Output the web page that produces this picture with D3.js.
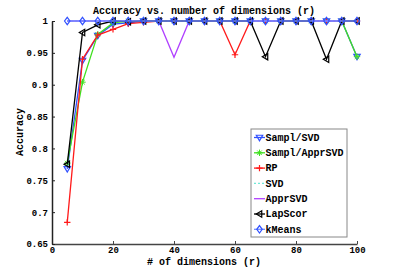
<!DOCTYPE html>
<html><head><meta charset="utf-8">
<script src="https://cdn.jsdelivr.net/npm/d3@7"></script>
<style>body{margin:0;background:#fff}svg{display:block}text{font-family:"Liberation Mono","DejaVu Sans Mono",monospace;font-weight:bold;fill:#000}</style>
</head><body><svg id="c" width="395" height="275"></svg>
<script>
const dims = [5,10,15,20,25,30,35,40,45,50,55,60,65,70,75,80,85,90,95,100];
const samplSVD     = [0.768,0.938,0.977,0.995,0.997,1,1,1,1,1,1,1,1,1,1,1,1,1,1,0.944];
const samplApprSVD = [0.777,0.904,0.979,0.997,1,1,1,1,1,1,1,1,1,1,1,1,1,1,1,0.944];
const rp           = [0.684,0.940,0.978,0.987,0.996,0.998,1,1,1,1,1,0.947,1,1,1,1,1,1,1,1];
const svd          = [1,1,1,1,1,1,1,1,1,1,1,1,1,1,1,1,1,1,1,1];
const apprSVD      = [1,1,1,1,1,1,1,0.943,1,1,1,1,1,1,1,1,1,1,1,1];
const lapScor      = [0.775,0.982,0.994,1,0.999,1,1,1,1,1,1,1,1,0.944,1,1,1,0.940,1,1];
const kMeans       = [1,1,1,1,1,1,1,1,1,1,1,1,1,1,1,1,1,1,1,1];
const xTicks = [0,20,40,60,80,100];
const yTicks = [0.65,0.7,0.75,0.8,0.85,0.9,0.95,1];
const seriesNames = ["Sampl/SVD","Sampl/ApprSVD","RP","SVD","ApprSVD","LapScor","kMeans"];

const series = [
  {name:seriesNames[0], v:samplSVD, color:"#3050ff", marker:"tridown"},
  {name:seriesNames[1], v:samplApprSVD, color:"#40e020", marker:"star"},
  {name:seriesNames[2], v:rp, color:"#ff1a1a", marker:"plus"},
  {name:seriesNames[3], v:svd, color:"#70e8d8", marker:"none", dash:"2,2"},
  {name:seriesNames[4], v:apprSVD, color:"#b040ff", marker:"none"},
  {name:seriesNames[5], v:lapScor, color:"#000000", marker:"trileft"},
  {name:seriesNames[6], v:kMeans, color:"#3050ff", marker:"diamond", lineColor:"#6f8cff"}
];

const svg = d3.select("#c");
const x = d3.scaleLinear().domain([0,100]).range([52,357]);
const y = d3.scaleLinear().domain([0.65,1]).range([244,21]);

function marker(g, type, cx, cy, color){
  const s=3.2;
  if(type==="tridown") g.append("path").attr("d",`M${cx-s},${cy-s*0.7}L${cx+s},${cy-s*0.7}L${cx},${cy+s}Z`).attr("fill","none").attr("stroke",color).attr("stroke-width",1.2);
  else if(type==="trileft") g.append("path").attr("d",`M${cx+s*0.7},${cy-s}L${cx+s*0.7},${cy+s}L${cx-s},${cy}Z`).attr("fill","none").attr("stroke",color).attr("stroke-width",1.2);
  else if(type==="diamond") g.append("path").attr("d",`M${cx},${cy-s-0.5}L${cx+s-0.5},${cy}L${cx},${cy+s+0.5}L${cx-s+0.5},${cy}Z`).attr("fill","none").attr("stroke",color).attr("stroke-width",1.2);
  else if(type==="plus") g.append("path").attr("d",`M${cx-s},${cy}L${cx+s},${cy}M${cx},${cy-s}L${cx},${cy+s}`).attr("stroke",color).attr("stroke-width",1.2);
  else if(type==="star") g.append("path").attr("d",`M${cx-s},${cy}L${cx+s},${cy}M${cx},${cy-s}L${cx},${cy+s}M${cx-s*0.7},${cy-s*0.7}L${cx+s*0.7},${cy+s*0.7}M${cx-s*0.7},${cy+s*0.7}L${cx+s*0.7},${cy-s*0.7}`).attr("stroke",color).attr("stroke-width",1);
}

// axes
const xAxis = d3.axisBottom(x).tickValues(xTicks).tickSizeInner(-3).tickSizeOuter(0).tickPadding(1);
const gx = svg.append("g").attr("transform","translate(0,244)").call(xAxis);
gx.select(".domain").attr("stroke","#444").attr("stroke-width",1.5);
gx.selectAll(".tick line").attr("stroke","#444");
gx.selectAll("text").style("font-size","9px").attr("fill","#000").attr("y",2.5).attr("dy","0.71em");

const yAxis = d3.axisLeft(y).tickValues(yTicks).tickFormat(d=>d===1?"1":d3.format("")(d)).tickSizeInner(-3).tickSizeOuter(0).tickPadding(4);
const gy = svg.append("g").attr("transform","translate(52,0)").call(yAxis);
gy.select(".domain").attr("stroke","#222").attr("stroke-width",1.5);
gy.selectAll(".tick line").attr("stroke","#222");
gy.selectAll("text").style("font-size","9px").attr("fill","#000");

const line = d3.line().x((d,i)=>x(dims[i])).y(d=>y(d));
const plot = svg.append("g");
series.forEach(s=>{
  plot.append("path").datum(s.v).attr("d",line).attr("fill","none")
    .attr("stroke",s.lineColor||s.color).attr("stroke-width",s.name==="kMeans"?1.6:1.3)
    .attr("stroke-dasharray",s.dash||null);
  if(s.marker!=="none") s.v.forEach((v,i)=>marker(plot,s.marker,x(dims[i]),y(v),s.color));
});

// title & labels
svg.append("text").attr("x",204).attr("y",14).attr("text-anchor","middle").style("font-size","10px").text("Accuracy vs. number of dimensions (r)");
svg.append("text").attr("x",204).attr("y",265).attr("text-anchor","middle").style("font-size","10px").text("# of dimensions (r)");
svg.append("text").attr("transform","translate(23,132) rotate(-90)").attr("text-anchor","middle").style("font-size","10px").text("Accuracy");

// legend
const lg = svg.append("g");
lg.append("rect").attr("x",251).attr("y",129).attr("width",96).attr("height",108).attr("fill","#fff").attr("stroke","#888").attr("stroke-width",1);
series.forEach((s,i)=>{
  const yy = 137.5 + i*15.3;
  lg.append("line").attr("x1",254).attr("x2",265).attr("y1",yy).attr("y2",yy).attr("stroke",s.lineColor||s.color).attr("stroke-width",1.3).attr("stroke-dasharray",s.dash||null);
  if(s.marker!=="none") marker(lg,s.marker,259.5,yy,s.color);
  lg.append("text").attr("x",265.5).attr("y",yy+3.3).style("font-size","10px").text(s.name);
});
</script></body></html>
